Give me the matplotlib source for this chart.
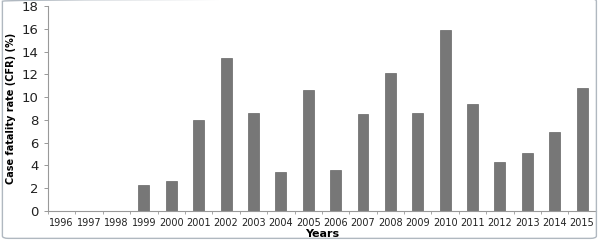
import numpy as np
import matplotlib
matplotlib.use("Agg")
import matplotlib.pyplot as plt
from matplotlib.patches import FancyBboxPatch

# datos
years = ["1996", "1997", "1998", "1999", "2000", "2001", "2002", "2003", "2004", "2005",
         "2006", "2007", "2008", "2009", "2010", "2011", "2012", "2013", "2014", "2015"]
cfr = [0, 0, 0, 2.28, 2.63, 8.0, 13.4, 8.63, 3.4, 10.6,
       3.57, 8.54, 12.14, 8.63, 15.9, 9.42, 4.33, 5.06, 6.9, 10.77]
yticks = [0, 2, 4, 6, 8, 10, 12, 14, 16, 18]

fig = plt.figure(figsize=(6, 2.42), dpi=100)
ax = fig.add_axes([0.08, 0.128, 0.913, 0.847])

x = np.arange(len(years))
ax.bar(x, cfr, width=0.4, color="#777777", edgecolor="#666666", linewidth=0.5, zorder=2)

ax.set_xlim(-0.5, len(years) - 0.5)
ax.set_ylim(0, 18)
ax.set_yticks(yticks)
ax.set_yticklabels([str(t) for t in yticks], fontsize=9.5, color="#222222")
ax.set_xticks(x)
ax.set_xticklabels(years, fontsize=7, color="#222222")
ax.tick_params(axis="x", length=0, pad=5)
ax.tick_params(axis="y", length=3, width=0.6, color="#888888", pad=4)

# marcas menores entre categorias
ax.set_xticks(np.arange(-0.5, len(years), 1), minor=True)
ax.tick_params(axis="x", which="minor", length=2, width=0.6, color="#999999")

for s in ["top", "right"]:
    ax.spines[s].set_visible(False)
ax.spines["left"].set_color("#999999")
ax.spines["bottom"].set_color("#999999")
ax.spines["left"].set_linewidth(0.8)
ax.spines["bottom"].set_linewidth(0.8)

ax.set_ylabel("Case fatality rate (CFR) (%)", fontsize=7, fontweight="bold", labelpad=4)
ax.set_xlabel("Years", fontsize=8, fontweight="bold", labelpad=1)

# marco gris alrededor
frame = FancyBboxPatch((0.004, 0.015), 0.99, 0.99, boxstyle="round,pad=0,rounding_size=0.01",
                       transform=fig.transFigure, fill=False, edgecolor="#b0b8c0", linewidth=1.0)
fig.patches.append(frame)

fig.savefig("out.png", dpi=100)
